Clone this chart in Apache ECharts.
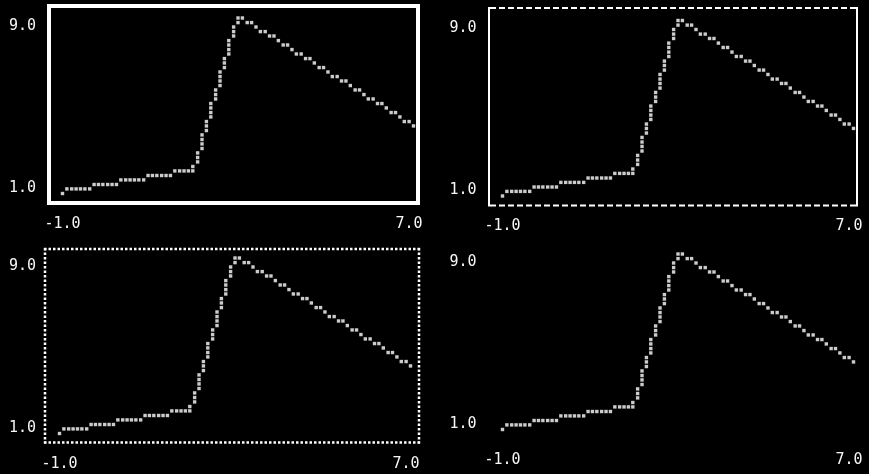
<!DOCTYPE html>
<html>
<head>
<meta charset="utf-8">
<script src="https://cdn.jsdelivr.net/npm/echarts@6/dist/echarts.min.js"></script>
<style>
html,body{margin:0;padding:0;background:#000;}
#c{width:869px;height:474px;}
</style>
</head>
<body>
<div id="c"></div>
<script>
// ---- data (same curve in all four panels) ----
const dotX = [
  -1.00,
  -0.90,-0.79,-0.69,-0.59,-0.49,-0.38,
  -0.28,-0.18,-0.08,0.03,0.13,0.23,
  0.33,0.44,0.54,0.64,0.74,0.85,
  0.95,1.05,1.15,1.26,1.36,1.46,
  1.56,1.67,1.77,1.87,1.97,
  1.97,
  2.08,2.08,2.08,
  2.18,2.18,2.18,2.18,
  2.28,2.28,2.28,
  2.38,2.38,2.38,2.38,
  2.49,2.49,2.49,
  2.59,2.59,2.59,2.59,
  2.69,2.69,2.69,
  2.79,2.79,2.79,2.79,
  2.90,2.90,2.90,
  3.00,3.00,
  3.10,
  3.21,3.31,
  3.41,
  3.51,3.62,
  3.72,3.82,
  3.92,
  4.03,4.13,
  4.23,
  4.33,4.44,
  4.54,4.64,
  4.74,
  4.85,4.95,
  5.05,
  5.15,5.26,
  5.36,5.46,
  5.56,
  5.67,5.77,
  5.87,
  5.97,6.08,
  6.18,6.28,
  6.38,
  6.49,6.59,
  6.69,
  6.79,6.90,
  7.00
];
const dotY = [
  1.00,
  1.21,1.21,1.21,1.21,1.21,1.21,
  1.41,1.41,1.41,1.41,1.41,1.41,
  1.62,1.62,1.62,1.62,1.62,1.62,
  1.82,1.82,1.82,1.82,1.82,1.82,
  2.03,2.03,2.03,2.03,2.03,
  2.23,
  2.44,2.64,2.85,
  3.05,3.26,3.46,3.67,
  3.87,4.08,4.28,
  4.49,4.69,4.90,5.10,
  5.31,5.51,5.72,
  5.92,6.13,6.33,6.54,
  6.74,6.95,7.15,
  7.36,7.56,7.77,7.97,
  8.18,8.38,8.59,
  8.79,9.00,
  9.00,
  8.79,8.79,
  8.59,
  8.38,8.38,
  8.18,8.18,
  7.97,
  7.77,7.77,
  7.56,
  7.36,7.36,
  7.15,7.15,
  6.95,
  6.74,6.74,
  6.54,
  6.33,6.33,
  6.13,6.13,
  5.92,
  5.72,5.72,
  5.51,
  5.31,5.31,
  5.10,5.10,
  4.90,
  4.69,4.69,
  4.49,
  4.28,4.28,
  4.08
];
const xTickValues = [-1, 7];
const xTickLabels = ['-1.0', '7.0'];
const yTickValues = [1, 9];
const yTickLabels = ['1.0', '9.0'];
const xRange = [-1, 7];
const yRange = [1, 9];

// ---- layout / style ----
const FONT = "'DejaVu Sans Mono', 'Liberation Mono', monospace";
const TXT = '#f6f6f6';
const panels = [
  {left: 62.5, top: 18,   yMargin: 26.5},
  {left: 502.5, top: 20.5, yMargin: 26},
  {left: 59.5, top: 258,  yMargin: 23.5},
  {left: 502.5, top: 254,  yMargin: 26}
];
const GW = 351, GH = 175.5;

const points = dotX.map((x, i) => [x, dotY[i]]);

const base = {fontFamily: FONT, fontSize: 15, color: TXT};
const grids = [], xAxes = [], yAxes = [], series = [];
panels.forEach((p, i) => {
  grids.push({left: p.left, top: p.top, width: GW, height: GH, containLabel: false});
  xAxes.push({
    type: 'value', gridIndex: i, min: xRange[0], max: xRange[1],
    axisLine: {show: false}, axisTick: {show: false}, splitLine: {show: false},
    axisLabel: {
      show: true, margin: 23, showMinLabel: true, showMaxLabel: true,
      customValues: xTickValues,
      formatter: v => {
        const k = xTickValues.indexOf(v);
        const t = k >= 0 ? xTickLabels[k] : '';
        return k === xTickValues.length - 1 ? '{r|' + t + '}' : '{n|' + t + '}';
      },
      rich: {n: Object.assign({}, base), r: Object.assign({padding: [0, 9, 0, 0]}, base)},
      fontFamily: FONT, fontSize: 15, color: TXT
    }
  });
  yAxes.push({
    type: 'value', gridIndex: i, min: yRange[0], max: yRange[1],
    axisLine: {show: false}, axisTick: {show: false}, splitLine: {show: false},
    axisLabel: {
      show: true, margin: p.yMargin, showMinLabel: true, showMaxLabel: true,
      customValues: yTickValues,
      formatter: v => {
        const k = yTickValues.indexOf(v);
        const t = k >= 0 ? yTickLabels[k] : '';
        return k === yTickValues.length - 1 ? '{t|' + t + '}' : '{b|' + t + '}';
      },
      rich: {t: Object.assign({padding: [16, 0, 0, 0]}, base), b: Object.assign({padding: [0, 0, 11, 0]}, base)},
      fontFamily: FONT, fontSize: 15, color: TXT
    }
  });
  series.push({
    type: 'scatter', xAxisIndex: i, yAxisIndex: i,
    symbol: 'rect', symbolSize: 3.4,
    itemStyle: {color: '#ffffff'},
    silent: true, data: points
  });
});

// ---- panel frames ----
const W = '#ffffff';
function ln(x1, y1, x2, y2, lw, dash) {
  return {type: 'line', silent: true, shape: {x1, y1, x2, y2},
          style: {stroke: W, lineWidth: lw, lineDash: dash || null, fill: null}};
}
const graphic = [
  // solid heavy frame (top-left)
  {type: 'rect', silent: true, shape: {x: 49, y: 6, width: 369, height: 197},
   style: {stroke: W, lineWidth: 4, fill: null}},
  // dashed frame (top-right)
  ln(489, 7, 489, 206.5, 2),
  ln(857, 7, 857, 206.5, 2),
  ln(490, 8, 856, 8, 2, [6, 3]),
  ln(490, 205.5, 856, 205.5, 2, [6, 3]),
  // dotted frame (bottom-left)
  ln(44, 249, 420, 249, 2.5, [2.5, 2]),
  ln(44, 442.5, 420, 442.5, 2.5, [2.5, 2]),
  ln(45, 248, 45, 443.5, 2.5, [2.5, 2]),
  ln(419, 248, 419, 443.5, 2.5, [2.5, 2])
];

const chart = echarts.init(document.getElementById('c'), null, {renderer: 'canvas'});
chart.setOption({
  backgroundColor: '#000000',
  animation: false,
  grid: grids, xAxis: xAxes, yAxis: yAxes, series: series,
  graphic: graphic
});
</script>
</body>
</html>
